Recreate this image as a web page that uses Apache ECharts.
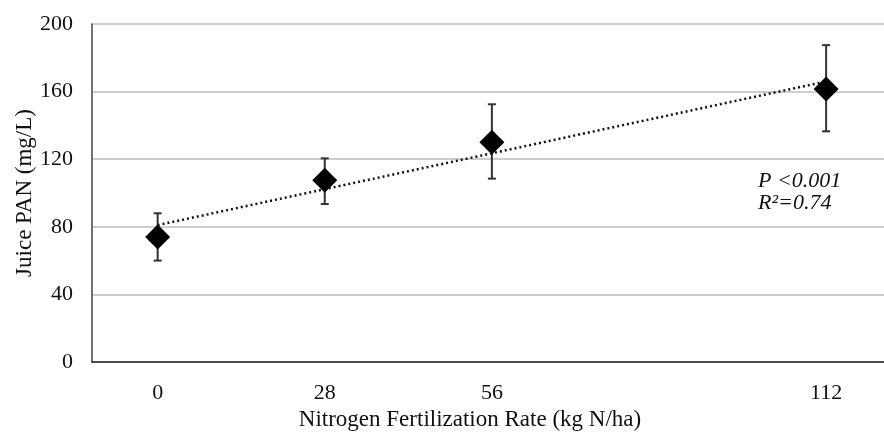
<!DOCTYPE html>
<html>
<head>
<meta charset="utf-8">
<script src="https://cdn.jsdelivr.net/npm/echarts@6/dist/echarts.min.js"></script>
<style>
  html, body { margin: 0; padding: 0; background: #fff; }
  #chart { width: 884px; height: 432px; }
</style>
</head>
<body>
<div id="chart"></div>
<script>
// nitrogen rates (kg N/ha) and juice PAN means with error bar ends
let rates = [0, 28, 56, 112]
let panMean = [74, 107.5, 130, 161.5]
let panLow = [60, 93.5, 108.5, 136.5]
let panHigh = [88, 120.5, 152.5, 187.5]
// linear fit drawn in the figure, read at both ends
let trendX = [0, 112]
let trendY = [81, 166]
let yTicks = [0, 40, 80, 120, 160, 200]

let font = 'Liberation Serif'
let chart = echarts.init(document.getElementById('chart'))

let option = {
  animation: false,
  grid: {
    left: 92,
    top: 24,
    right: 0,
    bottom: 70,
    outerBoundsMode: 'none'
  },
  xAxis: {
    type: 'value',
    min: -11,
    max: 121.7,
    name: 'Nitrogen Fertilization Rate (kg N/ha)',
    nameLocation: 'middle',
    nameGap: 45,
    nameTextStyle: { fontFamily: font, fontSize: 23, color: '#111', padding: [0, 36, 0, 0] },
    axisLine: { lineStyle: { color: '#222', width: 1.5 } },
    axisTick: { show: false },
    splitLine: { show: false },
    axisLabel: {
      customValues: rates,
      fontFamily: font,
      fontSize: 22,
      color: '#111',
      margin: 20
    }
  },
  yAxis: {
    type: 'value',
    min: yTicks[0],
    max: yTicks[yTicks.length - 1],
    interval: 40,
    name: 'Juice PAN (mg/L)',
    nameLocation: 'middle',
    nameGap: 56,
    nameMoveOverlap: false,
    nameTextStyle: { fontFamily: font, fontSize: 23, color: '#111' },
    axisLine: { show: true, onZero: false, lineStyle: { color: '#444', width: 1.5 } },
    axisTick: { show: false },
    axisLabel: { fontFamily: font, fontSize: 22, color: '#111', margin: 19 },
    splitLine: { lineStyle: { color: '#bdbdbd', width: 1.5 } }
  },
  graphic: [{
    type: 'text',
    left: 758,
    top: 170,
    style: {
      text: 'P <0.001\nR²=0.74',
      font: 'italic 22px "Liberation Serif"',
      fill: '#111',
      lineHeight: 22
    }
  }],
  series: [{
    name: 'trend',
    type: 'line',
    data: trendX.map((x, i) => [x, trendY[i]]),
    symbol: 'none',
    lineStyle: { color: '#111', width: 2.5, type: [2, 3] },
    z: 2
  }, {
    name: 'error',
    type: 'custom',
    data: rates.map((x, i) => [x, panLow[i], panHigh[i]]),
    renderItem: (params, api) => {
      let lo = api.coord([api.value(0), api.value(1)])
      let hi = api.coord([api.value(0), api.value(2)])
      let cap = 4
      let style = { stroke: '#333', lineWidth: 2 }
      return {
        type: 'group',
        children: [
          { type: 'line', shape: { x1: lo[0], y1: lo[1], x2: hi[0], y2: hi[1] }, style: style },
          { type: 'line', shape: { x1: lo[0] - cap, y1: lo[1], x2: lo[0] + cap, y2: lo[1] }, style: style },
          { type: 'line', shape: { x1: hi[0] - cap, y1: hi[1], x2: hi[0] + cap, y2: hi[1] }, style: style }
        ]
      }
    },
    z: 3
  }, {
    name: 'PAN',
    type: 'scatter',
    data: rates.map((x, i) => [x, panMean[i]]),
    symbol: 'diamond',
    symbolSize: 25,
    itemStyle: { color: '#000', opacity: 1 },
    z: 4
  }]
}

chart.setOption(option)
</script>
</body>
</html>
